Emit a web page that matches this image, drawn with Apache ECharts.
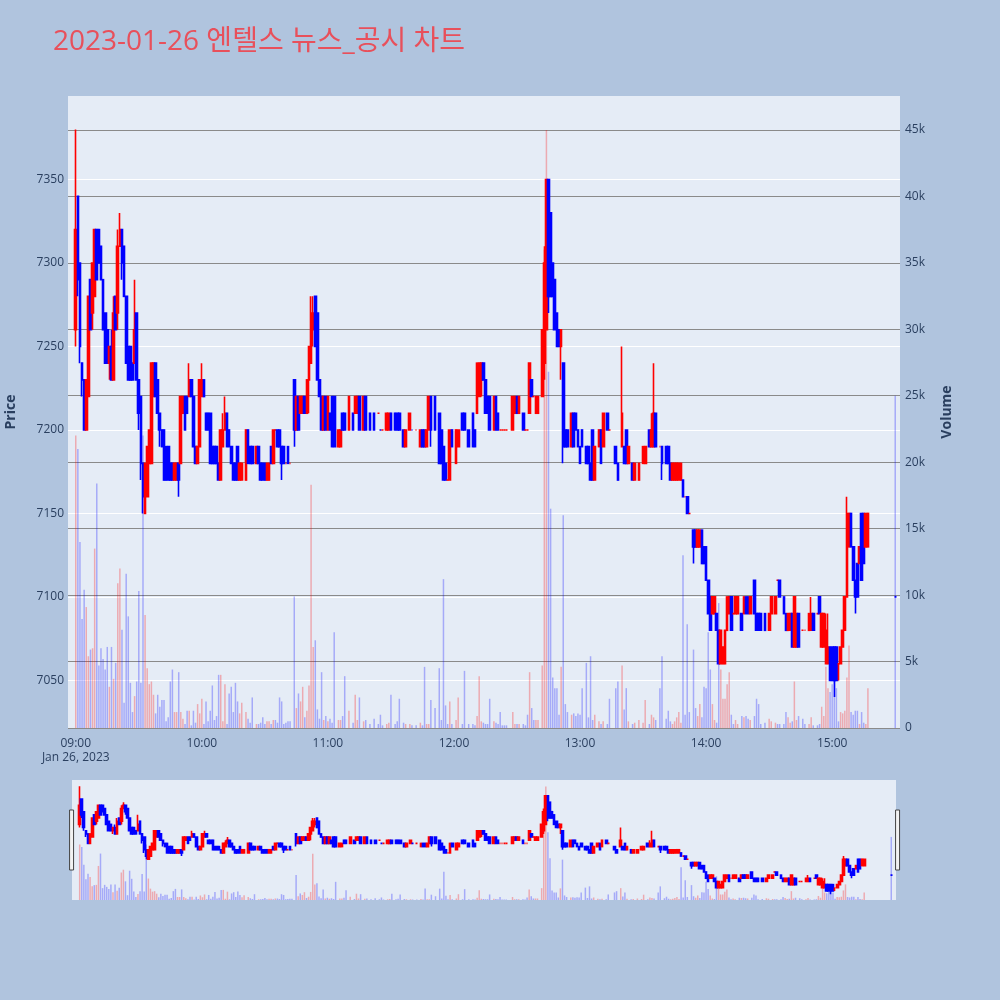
<!DOCTYPE html>
<html><head><meta charset="utf-8">
<script src="https://cdn.jsdelivr.net/npm/echarts@6/dist/echarts.min.js"></script>
<style>html,body{margin:0;padding:0;background:#b0c4de}#c{width:1000px;height:1000px}</style>
</head><body><div id="c"></div>
<script>
const tradeDate = '2023-01-26';
const dateLabel = 'Jan 26, 2023';
const titleText = '2023-01-26 엔텔스 뉴스_공시 차트';
const axisStart = '08:56:40';
const axisEnd = '15:31:55';

const times = [
'09:00','09:01','09:02','09:03','09:04','09:05','09:06','09:07','09:08','09:09',
'09:10','09:11','09:12','09:13','09:14','09:15','09:16','09:17','09:18','09:19',
'09:20','09:21','09:22','09:23','09:24','09:25','09:26','09:27','09:28','09:29',
'09:30','09:31','09:32','09:33','09:34','09:35','09:36','09:37','09:38','09:39',
'09:40','09:41','09:42','09:43','09:44','09:45','09:46','09:47','09:48','09:49',
'09:50','09:51','09:52','09:53','09:54','09:55','09:56','09:57','09:58','09:59',
'10:00','10:01','10:02','10:03','10:04','10:05','10:06','10:07','10:08','10:09',
'10:10','10:11','10:12','10:13','10:14','10:15','10:16','10:17','10:18','10:19',
'10:21','10:22','10:23','10:24','10:26','10:27','10:28','10:29','10:30','10:31',
'10:32','10:33','10:34','10:35','10:36','10:37','10:38','10:39','10:40','10:41',
'10:42','10:44','10:45','10:46','10:47','10:48','10:49','10:50','10:51','10:52',
'10:53','10:54','10:55','10:56','10:57','10:58','10:59','11:00','11:01','11:02',
'11:03','11:05','11:06','11:07','11:08','11:10','11:12','11:13','11:14','11:15',
'11:17','11:18','11:20','11:22','11:24','11:25','11:26','11:28','11:29','11:30',
'11:32','11:33','11:34','11:36','11:37','11:39','11:40','11:42','11:44','11:45',
'11:46','11:47','11:48','11:49','11:51','11:53','11:54','11:55','11:56','11:57',
'11:58','11:59','12:01','12:02','12:04','12:05','12:07','12:09','12:10','12:11',
'12:12','12:13','12:14','12:15','12:16','12:17','12:19','12:20','12:21','12:22',
'12:23','12:24','12:25','12:28','12:29','12:30','12:31','12:33','12:34','12:35',
'12:36','12:37','12:38','12:39','12:40','12:42','12:43','12:44','12:45','12:46',
'12:47','12:48','12:49','12:50','12:51','12:52','12:53','12:54','12:56','12:57',
'12:58','12:59','13:00','13:01','13:03','13:04','13:05','13:06','13:07','13:09',
'13:10','13:11','13:13','13:14','13:17','13:18','13:20','13:21','13:22','13:23',
'13:25','13:26','13:28','13:30','13:31','13:33','13:34','13:35','13:36','13:38',
'13:39','13:41','13:42','13:43','13:44','13:45','13:46','13:47','13:48','13:49',
'13:50','13:51','13:52','13:54','13:55','13:56','13:57','13:58','13:59','14:00',
'14:01','14:02','14:03','14:04','14:05','14:06','14:07','14:08','14:09','14:10',
'14:11','14:12','14:13','14:14','14:15','14:17','14:18','14:19','14:20','14:21',
'14:23','14:24','14:25','14:26','14:28','14:30','14:31','14:33','14:34','14:35',
'14:37','14:38','14:39','14:40','14:41','14:42','14:43','14:44','14:46','14:47',
'14:49','14:50','14:51','14:53','14:54','14:55','14:56','14:57','14:58','14:59',
'15:00','15:01','15:02','15:03','15:04','15:05','15:06','15:07','15:08','15:09',
'15:10','15:11','15:12','15:13','15:14','15:15','15:16','15:17','15:30'
];

const opens = [
7260,7340,7300,7240,7230,7200,7220,7290,7270,7280,
7320,7320,7310,7290,7270,7260,7240,7250,7230,7280,
7270,7310,7320,7310,7280,7250,7250,7240,7240,7270,
7230,7220,7180,7150,7160,7180,7180,7220,7240,7230,
7210,7200,7200,7190,7190,7180,7180,7170,7170,7180,
7180,7210,7220,7220,7220,7230,7220,7190,7180,7190,
7220,7230,7210,7210,7210,7190,7190,7190,7180,7170,
7190,7200,7210,7200,7190,7180,7180,7190,7170,7170,
7170,7200,7190,7190,7180,7190,7180,7180,7180,7170,
7170,7190,7180,7200,7200,7200,7190,7190,7180,7190,
7180,7230,7200,7220,7210,7210,7220,7210,7230,7240,
7260,7280,7270,7230,7220,7200,7220,7200,7210,7220,
7220,7190,7190,7210,7210,7200,7210,7210,7210,7220,
7200,7220,7210,7210,7210,7200,7200,7200,7200,7210,
7210,7210,7210,7200,7190,7200,7200,7200,7190,7200,
7200,7190,7200,7220,7220,7210,7200,7190,7180,7170,
7170,7200,7180,7190,7210,7210,7200,7210,7200,7210,
7220,7230,7240,7230,7220,7220,7200,7220,7210,7200,
7200,7200,7200,7200,7210,7220,7210,7210,7200,7200,
7210,7230,7220,7210,7210,7220,7240,7260,7350,7330,
7300,7290,7270,7260,7250,7240,7200,7200,7190,7210,
7210,7200,7190,7200,7190,7190,7180,7200,7170,7190,
7200,7190,7210,7200,7190,7180,7190,7190,7200,7180,
7180,7170,7170,7180,7180,7200,7190,7190,7210,7190,
7190,7190,7190,7180,7170,7170,7170,7170,7170,7170,
7160,7160,7150,7140,7140,7130,7130,7140,7130,7130,
7110,7100,7090,7090,7090,7080,7060,7060,7060,7080,
7090,7100,7090,7090,7090,7090,7090,7100,7100,7090,
7110,7090,7090,7090,7090,7080,7090,7090,7110,7110,
7100,7090,7080,7080,7090,7070,7070,7090,7080,7080,
7080,7080,7090,7090,7100,7070,7070,7060,7060,7070,
7070,7070,7070,7060,7060,7070,7080,7100,7130,7150,
7130,7110,7120,7120,7150,7150,7130,7130,7100
];

const closes = [
7320,7290,7250,7230,7200,7230,7280,7260,7300,7320,
7290,7300,7290,7260,7240,7240,7250,7230,7270,7260,
7310,7320,7300,7280,7240,7230,7230,7230,7260,7230,
7210,7180,7160,7180,7190,7200,7240,7240,7220,7210,
7200,7190,7170,7170,7170,7170,7170,7180,7180,7170,
7220,7220,7200,7210,7230,7220,7190,7180,7190,7230,
7230,7220,7200,7200,7180,7180,7180,7180,7170,7200,
7200,7210,7190,7190,7180,7170,7170,7170,7180,7180,
7200,7180,7180,7180,7190,7180,7170,7170,7170,7180,
7180,7180,7200,7200,7190,7190,7180,7180,7180,7180,
7180,7200,7220,7200,7220,7220,7210,7230,7250,7270,
7270,7250,7230,7220,7200,7220,7200,7220,7200,7190,
7190,7200,7200,7200,7200,7220,7200,7220,7220,7200,
7220,7200,7200,7200,7210,7200,7200,7210,7210,7200,
7200,7200,7200,7190,7200,7210,7200,7200,7200,7190,
7190,7200,7220,7200,7200,7180,7180,7170,7170,7170,
7200,7190,7200,7200,7200,7200,7190,7190,7190,7240,
7240,7240,7230,7210,7210,7200,7220,7200,7200,7200,
7200,7200,7200,7220,7220,7210,7220,7200,7200,7200,
7240,7220,7220,7220,7220,7260,7300,7350,7280,7280,
7280,7260,7250,7250,7260,7190,7190,7190,7210,7190,
7200,7190,7180,7190,7180,7180,7170,7170,7190,7200,
7180,7210,7200,7200,7180,7170,7210,7180,7180,7190,
7170,7180,7180,7190,7190,7190,7200,7210,7190,7190,
7180,7180,7180,7170,7180,7180,7180,7180,7180,7160,
7160,7150,7150,7130,7130,7140,7140,7120,7120,7110,
7090,7080,7100,7100,7080,7060,7080,7070,7080,7100,
7100,7080,7090,7100,7100,7080,7100,7090,7090,7100,
7090,7080,7080,7080,7080,7090,7100,7100,7110,7100,
7090,7080,7090,7090,7070,7100,7090,7070,7080,7080,
7090,7090,7080,7090,7090,7090,7090,7080,7070,7050,
7050,7050,7050,7060,7070,7080,7100,7150,7150,7130,
7110,7100,7100,7130,7110,7120,7150,7150,7100
];

const lows = [
7250,7280,7240,7220,7200,7200,7220,7260,7260,7280,
7290,7300,7290,7260,7240,7240,7230,7230,7230,7260,
7260,7310,7290,7280,7240,7230,7230,7230,7240,7230,
7200,7170,7150,7150,7160,7180,7180,7220,7220,7210,
7190,7190,7170,7170,7170,7170,7170,7170,7170,7160,
7180,7210,7200,7210,7220,7220,7190,7180,7180,7190,
7220,7220,7200,7200,7180,7180,7180,7180,7170,7170,
7190,7200,7190,7190,7180,7170,7170,7170,7170,7170,
7170,7180,7180,7180,7180,7180,7170,7170,7170,7170,
7170,7180,7180,7200,7190,7190,7170,7180,7180,7180,
7180,7190,7200,7200,7210,7210,7210,7210,7210,7240,
7250,7250,7230,7220,7200,7200,7200,7200,7200,7190,
7190,7190,7190,7200,7200,7200,7200,7210,7210,7200,
7200,7200,7200,7200,7210,7200,7200,7200,7200,7200,
7200,7200,7200,7190,7190,7200,7200,7200,7190,7190,
7190,7190,7200,7190,7200,7180,7180,7170,7170,7170,
7170,7190,7180,7190,7200,7200,7190,7190,7190,7210,
7220,7220,7230,7210,7210,7200,7200,7200,7200,7200,
7200,7200,7200,7200,7210,7210,7210,7200,7200,7200,
7210,7220,7220,7210,7210,7220,7230,7260,7270,7280,
7280,7260,7250,7250,7230,7180,7190,7190,7190,7190,
7200,7190,7180,7190,7180,7180,7170,7170,7170,7190,
7180,7190,7200,7200,7180,7170,7190,7180,7180,7180,
7170,7170,7170,7180,7180,7190,7190,7190,7190,7190,
7170,7180,7180,7170,7170,7170,7170,7170,7170,7160,
7160,7150,7150,7120,7130,7130,7130,7120,7120,7110,
7090,7080,7090,7090,7080,7060,7060,7060,7060,7080,
7090,7080,7090,7090,7090,7080,7090,7090,7090,7090,
7090,7080,7080,7080,7080,7080,7090,7090,7110,7100,
7090,7080,7080,7080,7070,7070,7070,7070,7080,7080,
7080,7080,7080,7090,7090,7070,7070,7060,7060,7050,
7050,7040,7050,7050,7060,7070,7080,7100,7130,7130,
7110,7090,7100,7120,7110,7120,7130,7130,7100
];

const highs = [
7380,7340,7300,7240,7230,7230,7280,7290,7300,7320,
7320,7320,7310,7290,7270,7260,7250,7260,7280,7280,
7320,7330,7320,7310,7280,7250,7250,7240,7290,7270,
7230,7220,7180,7180,7190,7200,7240,7240,7240,7230,
7210,7200,7200,7190,7190,7180,7180,7180,7180,7180,
7220,7220,7220,7220,7240,7230,7220,7190,7190,7230,
7240,7230,7210,7210,7210,7190,7190,7190,7180,7200,
7210,7220,7210,7200,7190,7180,7180,7190,7180,7180,
7200,7200,7190,7190,7190,7190,7180,7180,7180,7180,
7180,7190,7200,7200,7200,7200,7190,7190,7180,7190,
7180,7230,7220,7220,7220,7220,7220,7230,7250,7280,
7280,7280,7270,7230,7220,7220,7220,7220,7210,7220,
7220,7200,7200,7210,7210,7220,7210,7220,7220,7220,
7220,7220,7210,7210,7210,7200,7200,7210,7210,7210,
7210,7210,7210,7200,7200,7210,7200,7200,7200,7200,
7200,7200,7220,7220,7220,7210,7200,7190,7180,7170,
7200,7200,7200,7200,7210,7210,7200,7210,7200,7240,
7240,7240,7240,7230,7220,7220,7220,7220,7210,7200,
7200,7200,7200,7220,7220,7220,7220,7210,7200,7200,
7240,7230,7220,7220,7220,7260,7310,7350,7350,7330,
7300,7290,7270,7260,7260,7240,7200,7200,7210,7210,
7210,7200,7190,7200,7190,7190,7180,7200,7190,7200,
7200,7210,7210,7200,7190,7180,7250,7190,7200,7190,
7180,7180,7180,7190,7190,7200,7210,7240,7210,7190,
7190,7190,7190,7180,7180,7180,7180,7180,7180,7170,
7160,7160,7150,7140,7140,7140,7140,7140,7130,7130,
7110,7100,7100,7100,7090,7080,7080,7070,7080,7100,
7100,7100,7090,7100,7100,7090,7100,7100,7100,7100,
7110,7090,7090,7090,7090,7090,7100,7100,7110,7110,
7100,7090,7090,7090,7090,7100,7090,7090,7080,7080,
7090,7100,7090,7090,7100,7090,7090,7090,7090,7070,
7070,7070,7070,7060,7070,7080,7100,7160,7150,7150,
7130,7110,7120,7130,7150,7150,7150,7150,7100
];

const volumes = [
22000,21000,14000,8200,10400,9100,5400,5900,6000,13500,
18400,4700,6000,5200,4400,6100,3100,6100,3700,4900,
10900,12000,7400,1900,11600,8400,3400,1200,2400,3500,
10300,3400,22000,8500,4500,3300,3500,2500,1100,2500,
1600,2100,2100,500,800,3500,4400,1200,1200,4200,
1200,700,300,1300,1300,200,1300,400,1800,1100,
2200,300,2000,500,1300,3200,600,900,4000,4000,
500,3300,300,2600,3100,1200,3400,2000,1100,1900,
1200,700,400,2300,300,300,400,800,300,500,
500,300,600,600,400,2300,2000,300,400,500,
500,9900,1500,2600,2000,3100,800,1300,3200,18300,
6100,6600,1400,700,4200,600,900,500,700,400,
7200,600,600,900,3900,1300,400,2500,600,2300,
500,600,300,700,300,1000,200,300,400,2500,
300,500,2200,400,300,300,200,200,400,200,
4600,300,300,2100,1500,4500,600,11200,1700,300,
2000,300,600,2300,300,4300,300,300,200,900,
3900,500,400,300,300,2200,500,400,300,1200,
200,200,200,1200,300,300,300,300,200,1000,
4200,1500,600,600,600,4700,36000,45000,26800,16500,
3800,3000,3000,1000,4600,16000,1800,1200,1000,1100,
900,1100,1000,3000,4900,800,5400,600,1000,500,
300,500,300,2200,3000,3500,4700,1400,3000,500,
300,400,600,400,2100,300,1000,800,600,3000,
5400,700,1300,500,300,500,800,1200,400,13000,
1000,7800,1200,5900,1500,900,1800,800,3100,3000,
7200,4400,1800,600,400,9400,4400,2200,2200,3300,
4200,1000,300,600,300,900,800,900,700,600,
900,2200,1800,300,400,700,500,400,300,300,
300,1200,800,400,500,3500,600,900,700,300,
300,800,200,200,300,1600,900,4600,3000,2700,
3300,3800,3000,500,1200,1100,1300,3800,6200,1200,
1000,1300,1300,300,1200,400,300,3000,25000
];

const upColor = '#ff0000';
const downColor = '#0000ff';
const upVol = 'rgba(255,0,0,0.28)';
const downVol = 'rgba(0,0,255,0.28)';
const textColor = '#2a3f5f';

function ts(hms) {
  const s = hms.length === 5 ? hms + ':00' : hms;
  return new Date(tradeDate + 'T' + s).getTime();
}

const candleData = times.map((t, i) => [ts(t), opens[i], closes[i], lows[i], highs[i]]);
const volData = times.map((t, i) => ({
  value: [ts(t), volumes[i]],
  itemStyle: { color: closes[i] > opens[i] ? upVol : downVol }
}));

const xMin = ts(axisStart), xMax = ts(axisEnd);
const priceMin = 7021.5, priceMax = 7400;
const volMax = 47550;

const chart = echarts.init(document.getElementById('c'), null, { renderer: 'canvas' });

function hhmm(v) {
  const d = new Date(v);
  const h = d.getHours(), m = d.getMinutes();
  const s = String(h).padStart(2, '0') + ':' + String(m).padStart(2, '0');
  return (h === 9 && m === 0) ? s + '\n' + dateLabel : s;
}

const candleStyle = {
  color: upColor, color0: downColor,
  borderColor: upColor, borderColor0: downColor, borderWidth: 1.6
};

chart.setOption({
  animation: false,
  backgroundColor: '#b0c4de',
  title: {
    text: titleText, left: 48, top: 23,
    textStyle: { color: '#e8505b', fontSize: 28, fontWeight: 'normal',
      fontFamily: '"Open Sans", "Noto Sans CJK KR", sans-serif' }
  },
  grid: [
    { left: 68, right: 100, top: 96, bottom: 272, show: true, backgroundColor: '#e5ecf6',
      borderWidth: 0, containLabel: false, outerBoundsMode: 'none' },
    { left: 72, right: 104, top: 780, height: 120, show: true, backgroundColor: '#e5ecf6',
      borderWidth: 0, containLabel: false, outerBoundsMode: 'none' }
  ],
  xAxis: [
    { type: 'time', gridIndex: 0, min: xMin, max: xMax,
      minInterval: 3600000, maxInterval: 3600000,
      axisLine: { show: false }, axisTick: { show: false }, splitLine: { show: false },
      axisLabel: { color: textColor, fontSize: 12, fontFamily: '"Open Sans", sans-serif',
        margin: 9, lineHeight: 14, formatter: hhmm, hideOverlap: false } },
    { type: 'time', gridIndex: 1, min: xMin, max: xMax, show: false,
      splitLine: { show: false } }
  ],
  yAxis: [
    { type: 'value', gridIndex: 0, position: 'left', min: priceMin, max: priceMax, splitNumber: 8,
      axisLine: { show: false }, axisTick: { show: false },
      axisLabel: { color: textColor, fontSize: 12, fontFamily: '"Open Sans", sans-serif',
        margin: 4, showMinLabel: false, showMaxLabel: false,
        formatter: v => String(Math.round(v)) },
      splitLine: { show: true, showMinLine: false, showMaxLine: false,
        lineStyle: { color: '#ffffff', width: 1 } },
      name: 'Price', nameLocation: 'middle', nameGap: 50, nameRotate: 90,
      nameTextStyle: { color: textColor, fontSize: 14, fontWeight: 'bold',
        fontFamily: '"Open Sans", sans-serif' } },
    { type: 'value', gridIndex: 0, position: 'right', min: 0, max: volMax, interval: 5000,
      axisLine: { show: false }, axisTick: { show: false },
      axisLabel: { color: textColor, fontSize: 12, fontFamily: '"Open Sans", sans-serif',
        margin: 5, showMaxLabel: false,
        formatter: v => v === 0 ? '0' : (v / 1000) + 'k' },
      splitLine: { show: true, showMaxLine: false,
        lineStyle: { color: '#8a8a8a', width: 1 } },
      name: 'Volume', nameLocation: 'middle', nameGap: 40, nameRotate: 90,
      nameTextStyle: { color: textColor, fontSize: 14, fontWeight: 'bold',
        fontFamily: '"Open Sans", sans-serif' } },
    { type: 'value', gridIndex: 1, min: priceMin, max: priceMax, show: false,
      splitLine: { show: false } },
    { type: 'value', gridIndex: 1, min: 0, max: volMax, show: false,
      splitLine: { show: false } }
  ],
  dataZoom: [{
    type: 'slider', xAxisIndex: 1, filterMode: 'none', start: 0, end: 100,
    left: 70, right: 102, top: 780, height: 120,
    showDataShadow: false, showDetail: false, brushSelect: false,
    backgroundColor: 'rgba(0,0,0,0)', borderColor: 'rgba(0,0,0,0)',
    fillerColor: 'rgba(0,0,0,0)', moveHandleSize: 0,
    handleIcon: 'path://M0,0H4V60H0Z', handleSize: '50%',
    handleStyle: { color: '#f2f2f2', borderColor: '#444', borderWidth: 1 },
    emphasis: { handleStyle: { color: '#f2f2f2', borderColor: '#444' } }
  }],
  series: [
    { type: 'bar', name: 'Volume', xAxisIndex: 0, yAxisIndex: 1, data: volData,
      barWidth: 1.5, z: 2, silent: true },
    { type: 'candlestick', name: 'Price', xAxisIndex: 0, yAxisIndex: 0, data: candleData,
      encode: { x: 0, y: [1, 2, 3, 4] }, barWidth: 2.2, itemStyle: candleStyle, z: 3, silent: true },
    { type: 'bar', xAxisIndex: 1, yAxisIndex: 3, data: volData,
      barWidth: 1.5, z: 2, silent: true },
    { type: 'candlestick', xAxisIndex: 1, yAxisIndex: 2, data: candleData,
      encode: { x: 0, y: [1, 2, 3, 4] }, barWidth: 2.2, itemStyle: candleStyle, z: 3, silent: true }
  ]
});
</script>
</body></html>
